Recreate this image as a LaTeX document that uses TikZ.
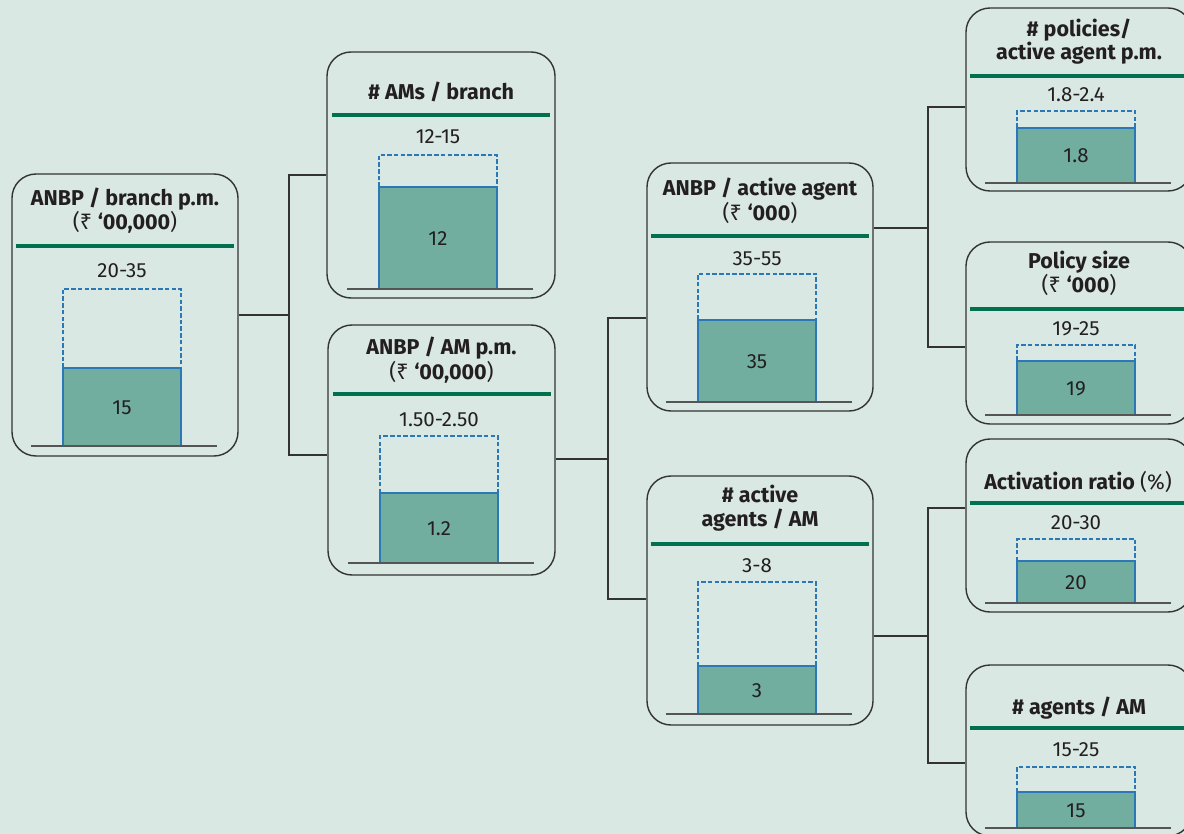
\documentclass[tikz,border=0pt]{standalone}
\usepackage{fontspec}
\setmainfont{Fira Sans}
\newfontfamily\rupfont{Noto Sans}
\newcommand\rup{{\rupfont\mdseries ₹}}
\usetikzlibrary{calc}
\definecolor{bgc}{HTML}{D9E8E2}
\definecolor{grn}{HTML}{00704F}
\definecolor{barf}{HTML}{71AE9F}
\definecolor{blu}{HTML}{2A78B6}
\definecolor{boxc}{HTML}{333333}
\definecolor{basec}{HTML}{555555}
\definecolor{txtc}{HTML}{231F20}
\tikzset{
  kbox/.style={draw=boxc, line width=1.4pt, rounded corners=24pt, inner sep=0pt},
  ttl/.style={font=\fontsize{21.5}{24}\selectfont\bfseries, text=txtc, anchor=base, inner sep=0pt},
  rng/.style={font=\fontsize{20.5}{24}\selectfont, text=txtc, anchor=base, inner sep=0pt},
  gline/.style={draw=grn, line width=4.3pt},
  dbar/.style={draw=blu, line width=1.2pt, dash pattern=on 4.5pt off 2.2pt},
  fbar/.style={draw=blu, fill=barf, line width=1.3pt},
  bline/.style={draw=basec, line width=1.6pt},
  conn/.style={draw=boxc, line width=1.4pt},
}
% #1 name, #2 left, #3 green y, #4 range text, #5 range base, #6 dash top, #7 fill top, #8 bottom, #9 value
\newcommand\kpiparts[9]{%
  \draw[gline] (#2+4,#3) -- (#2+222,#3);
  \node[rng] (#1r) at (#2+110,#5) {#4};
  \draw[dbar] (#2+51,#7) -- (#2+51,#6) -- (#2+169,#6) -- (#2+169,#7);
  \filldraw[fbar] (#2+51,#7) rectangle (#2+169,#8);
  \draw[bline] (#2+19,#8) -- (#2+205,#8);
  \node[rng] (#1v) at (#2+110,{(#7+#8)/2+7.3}) {#9};
}
\begin{document}
\begin{tikzpicture}[x=1pt,y=-1pt]
\useasboundingbox (0,0) rectangle (1184,834);
\fill[bgc] (0,0) rectangle (1184,834);
\begin{scope}
\clip (0,0) rectangle (1184,834);
% boxes
\node[kbox, minimum width=226pt, minimum height=282pt] (b1) at (125,315) {};
\node[kbox, minimum width=228pt, minimum height=246pt] (b2) at (441,175) {};
\node[kbox, minimum width=227pt, minimum height=250pt] (b3) at (441.5,450) {};
\node[kbox, minimum width=226pt, minimum height=248pt] (b4) at (760,287) {};
\node[kbox, minimum width=226pt, minimum height=249pt] (b5) at (760,600.5) {};
\node[kbox, minimum width=226pt, minimum height=183pt] (b6) at (1079,99.5) {};
\node[kbox, minimum width=226pt, minimum height=182pt] (b7) at (1079,333) {};
\node[kbox, minimum width=226pt, minimum height=173pt] (b8) at (1079,525.5) {};
\node[kbox, minimum width=226pt, minimum height=171pt] (b9) at (1079,750.5) {};
% titles
\node[ttl] (b1t) at (125,206) {ANBP / branch p.m.};
\node[ttl] (b1u) at (125,230) {\mdseries(\rup{} \bfseries‘00,000\mdseries)};
\node[ttl] (b2t) at (441,100) {\# AMs / branch};
\node[ttl] (b3t) at (441.5,355) {ANBP / AM p.m.};
\node[ttl] (b3u) at (441.5,380) {\mdseries(\rup{} \bfseries‘00,000\mdseries)};
\node[ttl] (b4t) at (760,196) {ANBP / active agent};
\node[ttl] (b4u) at (760,221) {\mdseries(\rup{} \bfseries‘000\mdseries)};
\node[ttl] (b5t) at (760,502.7) {\# active};
\node[ttl] (b5u) at (760,526) {agents / AM};
\node[ttl] (b6t) at (1079,36.7) {\# policies/};
\node[ttl] (b6u) at (1079,60) {active agent p.m.};
\node[ttl] (b7t) at (1079,269) {Policy size};
\node[ttl] (b7u) at (1079,293) {\mdseries(\rup{} \bfseries‘000\mdseries)};
\node[ttl] (b8t) at (1078,489) {Activation ratio \mdseries(\%)};
\node[ttl] (b9t) at (1079,714) {\# agents / AM};
% contents
\kpiparts{b1}{12}{246}{20-35}{277.7}{289}{368}{446}{15}
\kpiparts{b2}{328}{115}{12-15}{144}{155}{187}{289}{12}
\kpiparts{b3}{329}{394}{1.50-2.50}{426.7}{436}{493}{563}{1.2}
\kpiparts{b4}{647}{236}{35-55}{265.7}{274}{320}{402}{35}
\kpiparts{b5}{647}{544}{3-8}{572.7}{582}{666}{714}{3}
\kpiparts{b6}{966}{76}{1.8-2.4}{101.7}{111}{128}{183}{1.8}
\kpiparts{b7}{966}{309}{19-25}{336}{345}{361}{415}{19}
\kpiparts{b8}{966}{503}{20-30}{529}{539}{561}{603}{20}
\kpiparts{b9}{966}{728}{15-25}{756.7}{767}{792}{828}{15}
% connectors
\coordinate (j1) at (289,315);
\coordinate (j1a) at (289,175);
\coordinate (j1b) at (289,455);
\draw[conn] (b1.east) -- (j1);
\draw[conn] (b2.west) -- (j1a) -- (j1b) -- (j1b -| b3.west);
\coordinate (j2) at (608,459);
\coordinate (j2a) at (608,318);
\coordinate (j2b) at (608,599);
\draw[conn] (b3.east |- j2) -- (j2);
\draw[conn] (j2a -| b4.west) -- (j2a) -- (j2b) -- (j2b -| b5.west);
\coordinate (j3) at (928,228);
\coordinate (j3a) at (928,107);
\coordinate (j3b) at (928,347);
\draw[conn] (b4.east |- j3) -- (j3);
\draw[conn] (j3a -| b6.west) -- (j3a) -- (j3b) -- (j3b -| b7.west);
\coordinate (j4) at (928,636);
\coordinate (j4a) at (928,508);
\coordinate (j4b) at (928,763);
\draw[conn] (b5.east |- j4) -- (j4);
\draw[conn] (j4a -| b8.west) -- (j4a) -- (j4b) -- (j4b -| b9.west);
\end{scope}
\end{tikzpicture}
\end{document}
